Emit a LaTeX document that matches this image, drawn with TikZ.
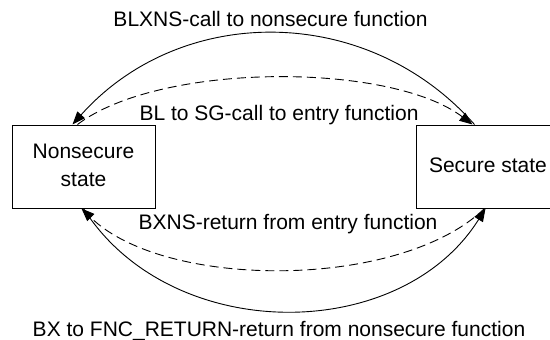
\documentclass[tikz,border=0pt]{standalone}
\usepackage{fontspec}
\setmainfont{Liberation Sans}
\usetikzlibrary{arrows.meta,calc}
\begin{document}
\begin{tikzpicture}[x=1pt,y=-1pt,
  every node/.style={font=\fontsize{21}{25}\selectfont},
  statebox/.style={draw,line width=1pt,inner sep=0pt},
  lbl/.style={anchor=base,inner sep=0pt},
  conn/.style={line width=0.9pt,-{Triangle[length=13pt,width=10pt]}},
  dconn/.style={conn,dash pattern=on 9pt off 5pt}]
\useasboundingbox (0,0) rectangle (550,340);
\clip (0,0) rectangle (550,340);
\node[statebox,minimum width=143pt,minimum height=83pt] (ns) at (83.5,166.5) {};
\node[statebox,minimum width=200pt,minimum height=83pt] (s) at (516,166.5) {};
\node[lbl] (nst1) at (83.5,158) {Nonsecure};
\node[lbl] (nst2) at (83.5,186) {state};
\node[lbl] (st) at (488,172) {Secure state};
\node[lbl] (t1) at (270.5,26.5) {BLXNS-call to nonsecure function};
\node[lbl] (t2) at (279,120) {BL to SG-call to entry function};
\node[lbl] (t3) at (288,229) {BXNS-return from entry function};
\node[lbl] (t4) at (279,336.5) {BX to FNC\_RETURN-return from nonsecure function};
% top solid: secure -> nonsecure
\draw[conn] ($(s.north west)+(59,0)$) .. controls (367,3) and (181,3) .. ($(ns.north west)+(61,0)$);
% top dashed: nonsecure -> secure
\draw[dconn] ($(ns.north west)+(66,0)$) .. controls (160,62) and (390,62) .. ($(s.north west)+(57,0)$);
% bottom dashed: secure -> nonsecure
\draw[dconn] ($(s.south west)+(69,0)$) .. controls (400,290) and (165,290) .. ($(ns.south west)+(70,0)$);
% bottom solid: nonsecure -> secure
\draw[conn] ($(ns.south west)+(72,0)$) .. controls (170,345) and (400,345) .. ($(s.south west)+(70,0)$);
\end{tikzpicture}
\end{document}
